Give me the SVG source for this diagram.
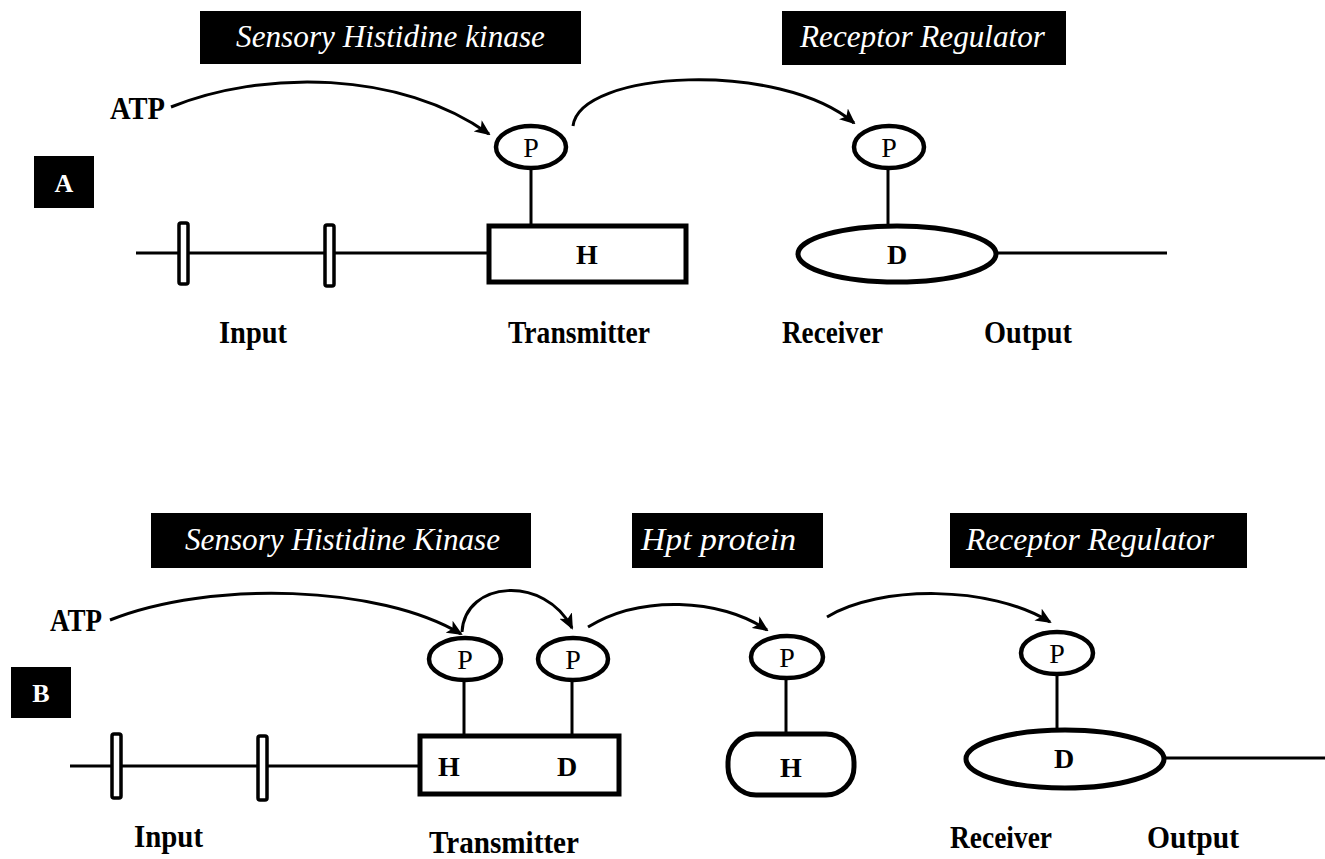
<svg xmlns="http://www.w3.org/2000/svg" width="1325" height="859" viewBox="0 0 1325 859">
<style>
.tbox{fill:#000}
.ttl{font-family:"Liberation Serif",serif;font-style:italic;font-size:31px;fill:#fff}
.lbl{font-family:"Liberation Serif",serif;font-weight:bold;font-size:31px;fill:#000}
.pan{font-family:"Liberation Serif",serif;font-weight:bold;font-size:26px;fill:#fff;text-anchor:middle}
.p{fill:#fff;stroke:#000;stroke-width:4.5}
.ptxt{font-family:"Liberation Serif",serif;font-size:28px;fill:#000;text-anchor:middle}
.dom{fill:#fff;stroke:#000;stroke-width:5}
.dtxt{font-family:"Liberation Serif",serif;font-weight:bold;font-size:28px;fill:#000;text-anchor:middle}
.ln{stroke:#000;stroke-width:3;fill:none}
.bar{fill:#fff;stroke:#000;stroke-width:3.5}
.arr{stroke:#000;stroke-width:3;fill:none;marker-end:url(#ah)}
</style>
<defs>
<marker id="ah" markerUnits="userSpaceOnUse" markerWidth="16" markerHeight="14" refX="14" refY="7" orient="auto">
<path d="M0,0 L16,7 L0,14 L4,7 Z" fill="#000"/>
</marker>
</defs>
<rect width="1325" height="859" fill="#fff"/>

<!-- Panel A -->
<g id="A-title-shk"><rect class="tbox" x="200" y="11" width="381" height="53"/><text class="ttl" x="236" y="47" textLength="309" lengthAdjust="spacingAndGlyphs">Sensory Histidine kinase</text></g>
<g id="A-title-rr"><rect class="tbox" x="782" y="11" width="284" height="54"/><text class="ttl" x="800" y="47" textLength="245" lengthAdjust="spacingAndGlyphs">Receptor Regulator</text></g>
<g id="A-label"><rect class="tbox" x="34" y="156" width="60" height="52"/><text class="pan" x="64" y="192">A</text></g>
<g id="A-atp"><text class="lbl" x="110" y="119" textLength="55" lengthAdjust="spacingAndGlyphs">ATP</text></g>

<g id="A-connectors">
<line class="ln" x1="136" y1="253" x2="487" y2="253"/>
<line class="ln" x1="531" y1="169" x2="531" y2="224"/>
<line class="ln" x1="888" y1="169" x2="888" y2="225"/>
<line class="ln" x1="997" y1="253" x2="1167" y2="253"/>
<path class="arr" d="M171,107 C262,70 400,70 489,134"/>
<path class="arr" d="M573,126 C580,70 780,60 854,123"/>
</g>

<g id="A-bar1"><rect class="bar" x="179" y="223" width="9" height="61" rx="2"/></g>
<g id="A-bar2"><rect class="bar" x="325" y="225" width="9" height="61" rx="2"/></g>
<g id="A-transmitter"><rect class="dom" x="489" y="226" width="197" height="56"/><text class="dtxt" x="587" y="264">H</text></g>
<g id="A-P1"><ellipse class="p" cx="531" cy="147" rx="35" ry="21"/><text class="ptxt" x="531" y="157">P</text></g>
<g id="A-P2"><ellipse class="p" cx="889" cy="147" rx="35" ry="21"/><text class="ptxt" x="889" y="157">P</text></g>
<g id="A-receiver"><ellipse class="dom" cx="897" cy="254" rx="99" ry="28"/><text class="dtxt" x="897" y="264">D</text></g>

<g id="A-labels">
<text class="lbl" x="219" y="343" textLength="68" lengthAdjust="spacingAndGlyphs">Input</text>
<text class="lbl" x="508" y="343" textLength="142" lengthAdjust="spacingAndGlyphs">Transmitter</text>
<text class="lbl" x="782" y="343" textLength="101" lengthAdjust="spacingAndGlyphs">Receiver</text>
<text class="lbl" x="984" y="343" textLength="88" lengthAdjust="spacingAndGlyphs">Output</text>
</g>

<!-- Panel B -->
<g id="B-title-shk"><rect class="tbox" x="151" y="513" width="380" height="55"/><text class="ttl" x="185" y="550" textLength="315" lengthAdjust="spacingAndGlyphs">Sensory Histidine Kinase</text></g>
<g id="B-title-hpt"><rect class="tbox" x="632" y="513" width="191" height="55"/><text class="ttl" x="641" y="550" textLength="155" lengthAdjust="spacingAndGlyphs">Hpt protein</text></g>
<g id="B-title-rr"><rect class="tbox" x="950" y="513" width="297" height="55"/><text class="ttl" x="966" y="550" textLength="248" lengthAdjust="spacingAndGlyphs">Receptor Regulator</text></g>
<g id="B-label"><rect class="tbox" x="11" y="667" width="60" height="51"/><text class="pan" x="41" y="702">B</text></g>
<g id="B-atp"><text class="lbl" x="50" y="631" textLength="52" lengthAdjust="spacingAndGlyphs">ATP</text></g>

<g id="B-connectors">
<line class="ln" x1="70" y1="766" x2="420" y2="766"/>
<line class="ln" x1="464" y1="680" x2="464" y2="736"/>
<line class="ln" x1="572" y1="680" x2="572" y2="736"/>
<line class="ln" x1="786" y1="678" x2="786" y2="734"/>
<line class="ln" x1="1057" y1="675" x2="1057" y2="730"/>
<line class="ln" x1="1164" y1="758" x2="1325" y2="758"/>
<path class="arr" d="M110,620 C210,580 380,585 461,634"/>
<path class="arr" d="M462,632 C465,580 545,575 572,628"/>
<path class="arr" d="M588,627 C640,595 720,598 767,630"/>
<path class="arr" d="M827,617 C880,585 990,585 1050,622"/>
</g>

<g id="B-bar1"><rect class="bar" x="112" y="734" width="9" height="64" rx="2"/></g>
<g id="B-bar2"><rect class="bar" x="258" y="736" width="9" height="64" rx="2"/></g>
<g id="B-transmitter"><rect class="dom" x="420" y="736" width="199" height="58"/><text class="dtxt" x="449" y="776">H</text><text class="dtxt" x="567" y="776">D</text></g>
<g id="B-P1"><ellipse class="p" cx="465" cy="659" rx="36" ry="21"/><text class="ptxt" x="465" y="669">P</text></g>
<g id="B-P2"><ellipse class="p" cx="573" cy="659" rx="35" ry="21"/><text class="ptxt" x="573" y="669">P</text></g>
<g id="B-P3"><ellipse class="p" cx="787" cy="657" rx="36" ry="21"/><text class="ptxt" x="787" y="667">P</text></g>
<g id="B-hpt"><rect class="dom" x="728" y="734" width="126" height="61" rx="28" ry="28"/><text class="dtxt" x="791" y="777">H</text></g>
<g id="B-P4"><ellipse class="p" cx="1057" cy="653" rx="36" ry="21"/><text class="ptxt" x="1057" y="663">P</text></g>
<g id="B-receiver"><ellipse class="dom" cx="1065" cy="759" rx="99" ry="29"/><text class="dtxt" x="1064" y="768">D</text></g>

<g id="B-labels">
<text class="lbl" x="134" y="847" textLength="69" lengthAdjust="spacingAndGlyphs">Input</text>
<text class="lbl" x="429" y="853" textLength="150" lengthAdjust="spacingAndGlyphs">Transmitter</text>
<text class="lbl" x="950" y="848" textLength="102" lengthAdjust="spacingAndGlyphs">Receiver</text>
<text class="lbl" x="1147" y="848" textLength="92" lengthAdjust="spacingAndGlyphs">Output</text>
</g>
</svg>
